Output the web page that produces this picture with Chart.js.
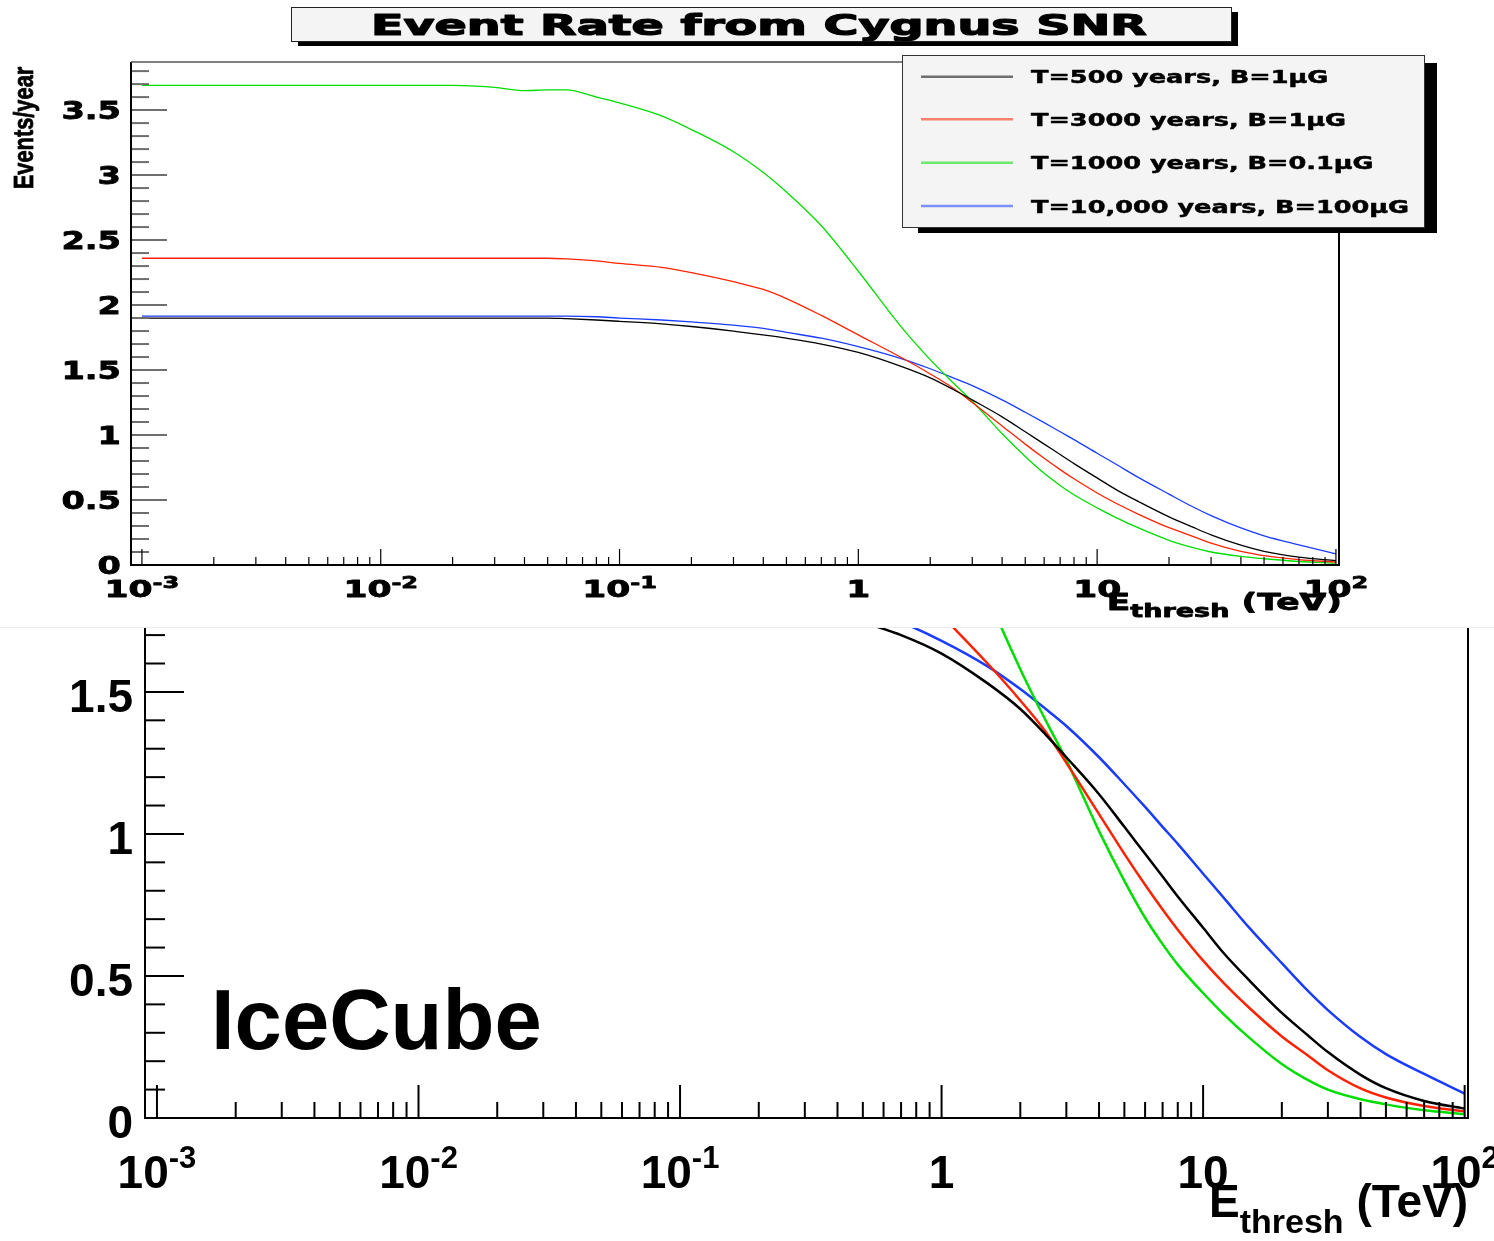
<!DOCTYPE html>
<html>
<head>
<meta charset="utf-8">
<title>Event Rate from Cygnus SNR</title>
<script src="https://cdn.jsdelivr.net/npm/chart.js@4.4.0/dist/chart.umd.min.js"></script>
<style>
  html, body { margin: 0; padding: 0; background: #fff; }
  #wrap { position: relative; width: 1494px; height: 1241px; overflow: hidden; }
  #top { position: absolute; left: 0; top: 0; }
  #sep { position: absolute; left: 0; top: 627px; width: 1494px; height: 1px; background: #ececec; }
  #bottom { position: absolute; left: 0; top: 628px; }
</style>
</head>
<body>
<div id="wrap">
  <canvas id="top" width="1494" height="627"></canvas>
  <div id="sep"></div>
  <canvas id="bottom" width="1494" height="613"></canvas>
</div>
<script>
// threshold energy (TeV)
var energies = [0.001, 0.002, 0.005, 0.01, 0.02, 0.025, 0.03, 0.04, 0.05, 0.06, 0.08, 0.1, 0.15, 0.2, 0.3, 0.4, 0.5, 0.7,
                1, 1.5, 2, 2.5, 3, 4, 5, 6, 7, 8, 10, 12, 15, 20, 25, 30, 40, 50, 70, 100];

// events per year for each model
var rateT500 = [1.90, 1.90, 1.90, 1.90, 1.90, 1.90, 1.90, 1.90, 1.90, 1.895, 1.885, 1.875, 1.855, 1.835, 1.80, 1.77, 1.745, 1.70,
                1.635, 1.53, 1.44, 1.35, 1.27, 1.14, 1.025, 0.93, 0.85, 0.78, 0.67, 0.58, 0.485, 0.37, 0.293, 0.232, 0.152, 0.105, 0.06, 0.033];
var rateT3000 = [2.36, 2.36, 2.36, 2.36, 2.36, 2.36, 2.36, 2.36, 2.36, 2.355, 2.34, 2.32, 2.29, 2.25, 2.18, 2.12, 2.05, 1.92,
                 1.77, 1.60, 1.47, 1.36, 1.25, 1.07, 0.93, 0.821, 0.734, 0.663, 0.554, 0.475, 0.388, 0.287, 0.222, 0.168, 0.104, 0.072, 0.042, 0.023];
var rateT1000 = [3.69, 3.69, 3.69, 3.69, 3.69, 3.685, 3.675, 3.65, 3.655, 3.655, 3.60, 3.555, 3.455, 3.35, 3.18, 3.02, 2.87, 2.61,
                 2.26, 1.84, 1.58, 1.40, 1.26, 1.01, 0.835, 0.705, 0.612, 0.54, 0.44, 0.365, 0.283, 0.19, 0.135, 0.10, 0.066, 0.048, 0.027, 0.014];
var rateT10000 = [1.915, 1.915, 1.915, 1.915, 1.915, 1.915, 1.915, 1.915, 1.915, 1.915, 1.91, 1.90, 1.885, 1.87, 1.845, 1.82, 1.79, 1.745,
                  1.68, 1.59, 1.51, 1.44, 1.38, 1.27, 1.175, 1.095, 1.025, 0.965, 0.86, 0.775, 0.67, 0.545, 0.45, 0.38, 0.285, 0.225, 0.155, 0.086];

var seriesLabels = ['T=500 years, B=1\u00b5G', 'T=3000 years, B=1\u00b5G', 'T=1000 years, B=0.1\u00b5G', 'T=10,000 years, B=100\u00b5G'];
var seriesColors = ['#000000', '#ff2200', '#00dd00', '#1a3cff'];

var xTickValues = [0.001, 0.01, 0.1, 1, 10, 100];
var xTickLabels = ['10^-3', '10^-2', '10^-1', '1', '10', '10^2'];
var yTickLabelsTop = ['0', '0.5', '1', '1.5', '2', '2.5', '3', '3.5'];
var yTickLabelsBottom = ['0', '0.5', '1', '1.5'];

var chartTitle = 'Event Rate from Cygnus SNR';
var yTitle = 'Events/year';
var detectorLabel = 'IceCube';

// text helpers (horizontal stretch for the wide ROOT font, optional extra weight)
function stretchText(ctx, s, x, y, font, sx, align, heavy) {
  ctx.save();
  ctx.font = font;
  ctx.translate(x, y);
  ctx.scale(sx, 1);
  ctx.textAlign = align || 'left';
  ctx.fillText(s, 0, 0);
  if (heavy) {
    ctx.lineWidth = heavy;
    ctx.strokeStyle = ctx.fillStyle;
    ctx.lineJoin = 'round';
    ctx.strokeText(s, 0, 0);
  }
  ctx.restore();
}
function textWidth(ctx, s, font, sx) {
  ctx.font = font;
  return ctx.measureText(s).width * sx;
}
function powerLabel(ctx, label, x, y, st) {
  var parts = label.split('^');
  var w1 = textWidth(ctx, parts[0], st.xFont, st.sx);
  var w2 = parts[1] ? textWidth(ctx, parts[1], st.supFont, st.sx) : 0;
  var left = x - (w1 + w2) / 2;
  stretchText(ctx, parts[0], left, y, st.xFont, st.sx, 'left', st.heavy);
  if (parts[1]) stretchText(ctx, parts[1], left + w1, y - st.supRaise, st.supFont, st.sx, 'left', st.heavy);
}

// axes, ticks, labels drawn ROOT style (ticks pointing inside)
var rootAxes = {
  id: 'rootAxes',
  afterDatasetsDraw: function(chart, args, st) {
    var ctx = chart.ctx, a = chart.chartArea;
    var xs = chart.scales.x, ys = chart.scales.y;
    ctx.save();

    // y ticks every 0.1, major every 0.5
    ctx.lineWidth = st.yTickWidth;
    ctx.strokeStyle = st.yTickColor;
    for (var i = 0; i * 0.1 <= ys.max + 1e-9; i++) {
      var py = ys.getPixelForValue(i * 0.1);
      var len = (i % 5 === 0) ? st.yMajor : st.yMinor;
      ctx.beginPath();
      ctx.moveTo(a.left, py);
      ctx.lineTo(a.left + len, py);
      ctx.stroke();
    }

    // x ticks, log decades
    ctx.lineWidth = st.xTickWidth;
    ctx.strokeStyle = st.xTickColor;
    for (var d = -3; d <= 2; d++) {
      for (var m = 1; m <= 9; m++) {
        var v = m * Math.pow(10, d);
        if (v < xs.min || v > xs.max) continue;
        var px = xs.getPixelForValue(v);
        var l = (m === 1) ? st.xMajor : st.xMinor;
        ctx.beginPath();
        ctx.moveTo(px, a.bottom);
        ctx.lineTo(px, a.bottom - l);
        ctx.stroke();
      }
    }

    // frame
    ctx.strokeStyle = '#000';
    ctx.lineWidth = 2;
    ctx.beginPath();
    ctx.moveTo(a.left, a.top);
    ctx.lineTo(a.left, a.bottom);
    ctx.lineTo(a.right, a.bottom);
    ctx.lineTo(a.right, a.top);
    ctx.stroke();
    if (st.topLine) {
      ctx.strokeStyle = '#555';
      ctx.lineWidth = 1.5;
      ctx.beginPath();
      ctx.moveTo(a.left, a.top);
      ctx.lineTo(a.right, a.top);
      ctx.stroke();
    }

    // tick labels
    ctx.fillStyle = '#000';
    ctx.textBaseline = 'alphabetic';
    st.yLabels.forEach(function(lab) {
      var py = ys.getPixelForValue(parseFloat(lab));
      stretchText(ctx, lab, st.yLabelRight, py + st.yLabelDy, st.yFont, st.ySx, 'right', st.heavy);
    });
    xTickValues.forEach(function(v, i) {
      powerLabel(ctx, xTickLabels[i], xs.getPixelForValue(v), st.xLabelY, st);
    });

    // x axis title: E_thresh (TeV)
    var wE = textWidth(ctx, 'E', st.titleFont, st.sx);
    var wSub = textWidth(ctx, 'thresh', st.subFont, st.sx);
    var wRest = textWidth(ctx, ' (TeV)', st.titleFont, st.sx);
    var start = a.right + st.titleDx - (wE + wSub + wRest);
    stretchText(ctx, 'E', start, st.titleY, st.titleFont, st.sx, 'left', st.heavy);
    stretchText(ctx, 'thresh', start + wE, st.titleY + st.subDrop, st.subFont, st.sx, 'left', st.heavy);
    stretchText(ctx, ' (TeV)', start + wE + wSub, st.titleY, st.titleFont, st.sx, 'left', st.heavy);

    ctx.restore();
  }
};

// title box, y title and legend of the upper panel
var topDecor = {
  id: 'topDecor',
  afterDraw: function(chart) {
    var ctx = chart.ctx;
    ctx.save();
    // title box with shadow
    ctx.fillStyle = '#000';
    ctx.fillRect(298, 12, 940, 34);
    ctx.fillStyle = '#f4f4f4';
    ctx.fillRect(291, 7, 941, 35);
    ctx.strokeStyle = '#222';
    ctx.lineWidth = 1;
    ctx.strokeRect(291.5, 7.5, 940, 34);
    ctx.fillStyle = '#000';
    stretchText(ctx, chartTitle, 759, 35, 'bold 28px "DejaVu Sans"', 1.7, 'center', 1.2);

    // y axis title, condensed
    ctx.save();
    ctx.translate(33, 128);
    ctx.rotate(-Math.PI / 2);
    stretchText(ctx, yTitle, 0, 0, 'bold 28px "Liberation Sans"', 0.78, 'center', 0.8);
    ctx.restore();

    // legend with shadow
    ctx.fillStyle = '#000';
    ctx.fillRect(918, 63, 519, 170);
    ctx.fillStyle = '#f4f4f4';
    ctx.fillRect(902, 55, 523, 173);
    ctx.strokeStyle = '#333';
    ctx.strokeRect(902.5, 55.5, 522, 172);
    var rows = [76.7, 119.3, 162.7, 206];
    chart.data.datasets.forEach(function(ds, i) {
      ctx.globalAlpha = 0.55;
      ctx.strokeStyle = ds.borderColor;
      ctx.lineWidth = 2.5;
      ctx.beginPath();
      ctx.moveTo(921, rows[i]);
      ctx.lineTo(1013, rows[i]);
      ctx.stroke();
      ctx.globalAlpha = 1;
      ctx.fillStyle = '#000';
      stretchText(ctx, ds.label, 1031, rows[i] + 6.5, 'bold 18px "DejaVu Sans"', 1.42, 'left', 0.5);
    });
    ctx.restore();
  }
};

var bottomDecor = {
  id: 'bottomDecor',
  afterDraw: function(chart) {
    var ctx = chart.ctx;
    ctx.save();
    ctx.fillStyle = '#000';
    ctx.font = 'bold 85px "Liberation Sans"';
    ctx.textAlign = 'left';
    ctx.fillText(detectorLabel, 211, 421);
    ctx.restore();
  }
};

function buildDatasets(width) {
  var all = [rateT500, rateT3000, rateT1000, rateT10000];
  return all.map(function(series, i) {
    return {
      label: seriesLabels[i],
      data: energies.map(function(e, j) { return { x: e, y: series[j] }; }),
      borderColor: seriesColors[i],
      borderWidth: width,
      pointRadius: 0,
      fill: false,
      cubicInterpolationMode: 'monotone'
    };
  });
}

function makeChart(id, yMax, padding, lineWidth, axesStyle, decor) {
  var ctx = document.getElementById(id).getContext('2d');
  return new Chart(ctx, {
    type: 'line',
    data: { datasets: buildDatasets(lineWidth) },
    options: {
      responsive: false,
      animation: false,
      devicePixelRatio: 1,
      layout: { padding: padding },
      scales: {
        x: { type: 'logarithmic', min: 0.0009, max: 103, display: false },
        y: { type: 'linear', min: 0, max: yMax, display: false }
      },
      plugins: {
        legend: { display: false },
        tooltip: { enabled: false },
        rootAxes: axesStyle
      }
    },
    plugins: [rootAxes, decor]
  });
}

// upper panel: full range
makeChart('top', 3.87, { left: 131, right: 155, top: 62, bottom: 62 }, 1.3, {
  yTickWidth: 2, yTickColor: '#6e6e6e', yMajor: 36, yMinor: 18,
  xTickWidth: 1.2, xTickColor: '#000', xMajor: 16, xMinor: 8,
  topLine: true, heavy: 0.8,
  yLabels: yTickLabelsTop, yLabelRight: 121, yLabelDy: 9, yFont: 'bold 24px "DejaVu Sans"', ySx: 1.4,
  xFont: 'bold 23px "DejaVu Sans"', supFont: 'bold 16px "DejaVu Sans"', supRaise: 9, sx: 1.5, xLabelY: 597,
  titleFont: 'bold 23px "DejaVu Sans"', subFont: 'bold 18px "DejaVu Sans"', titleY: 610, subDrop: 7, titleDx: 3
}, topDecor);

// lower panel: IceCube, zoomed y range
makeChart('bottom', 1.725, { left: 145, right: 26, top: 0, bottom: 123 }, 2.5, {
  yTickWidth: 2, yTickColor: '#000', yMajor: 39, yMinor: 20,
  xTickWidth: 2, xTickColor: '#000', xMajor: 33, xMinor: 16,
  topLine: false, heavy: 0,
  yLabels: yTickLabelsBottom, yLabelRight: 133, yLabelDy: 20, yFont: 'bold 46px "Liberation Sans"', ySx: 1,
  xFont: 'bold 46px "Liberation Sans"', supFont: 'bold 31px "Liberation Sans"', supRaise: 20, sx: 1, xLabelY: 560,
  titleFont: 'bold 46px "Liberation Sans"', subFont: 'bold 34px "Liberation Sans"', titleY: 589, subDrop: 16, titleDx: 0
}, bottomDecor);
</script>
</body>
</html>
